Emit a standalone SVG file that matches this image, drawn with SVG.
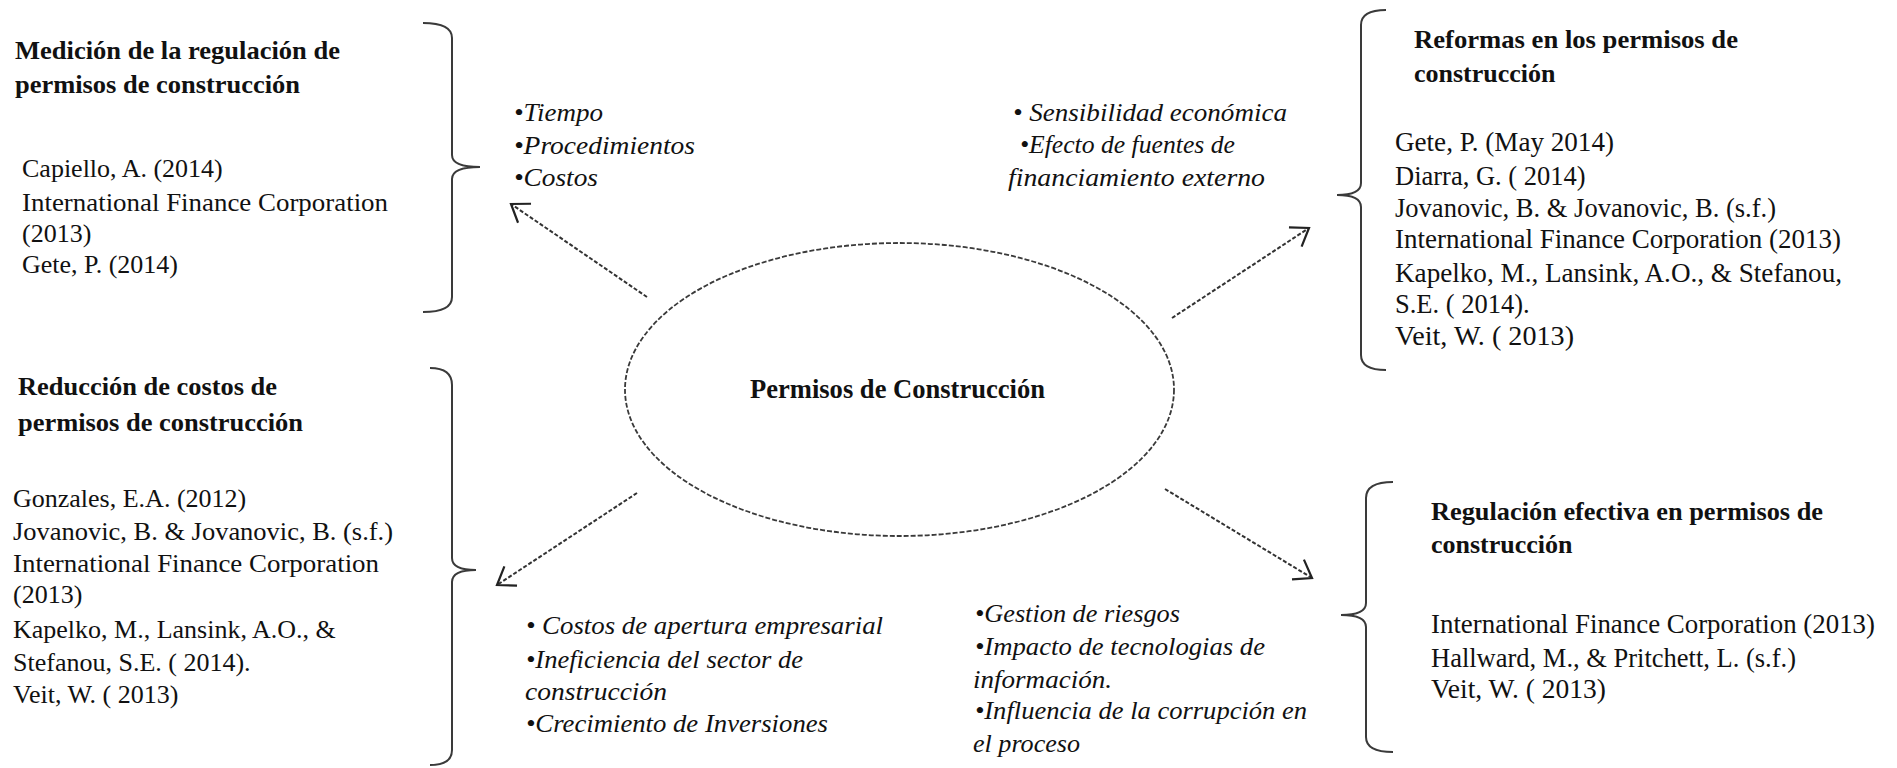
<svg xmlns="http://www.w3.org/2000/svg" width="1897" height="768" viewBox="0 0 1897 768">
<style>
.bg{fill:#ffffff}
.brace{fill:none;stroke:#3a3a3a;stroke-width:2}
.h{font-family:"Liberation Serif","Times New Roman",serif;font-weight:bold;fill:#111}
.r{font-family:"Liberation Serif","Times New Roman",serif;fill:#111}
.it{font-family:"Liberation Serif","Times New Roman",serif;font-style:italic;font-size:25px;fill:#111}
.conn{fill:none;stroke:#333;stroke-width:2;stroke-dasharray:4 2}
.ell{fill:none;stroke:#3a3a3a;stroke-width:1.8;stroke-dasharray:5 2}
.L{font-size:26px}
.R{font-size:26.5px}
</style>
<defs>
<marker id="arr" markerUnits="userSpaceOnUse" markerWidth="40" markerHeight="40" viewBox="-20 -20 40 40" refX="0" refY="0" orient="auto">
<path d="M-16.4,-11.5 L0,0 L-16.4,11.5" fill="none" stroke="#222" stroke-width="2.2" stroke-dasharray="none"/>
</marker>
</defs>
<rect class="bg" x="0" y="0" width="1897" height="768"/>

<g id="connectors">
<line class="conn" x1="647" y1="297" x2="511" y2="204" marker-end="url(#arr)"/>
<line class="conn" x1="1172" y1="318" x2="1309" y2="228" marker-end="url(#arr)"/>
<line class="conn" x1="637" y1="493" x2="497" y2="585" marker-end="url(#arr)"/>
<line class="conn" x1="1165" y1="489" x2="1312" y2="578" marker-end="url(#arr)"/>
</g>

<g id="center">
<ellipse class="ell" cx="899.5" cy="389.5" rx="274.5" ry="146.5"/>
<text class="h" x="750" y="398" font-size="27" textLength="295" lengthAdjust="spacingAndGlyphs">Permisos de Construcción</text>
</g>

<g id="medicion">
<path class="brace" d="M423,23 Q452,23 452,38 L452,155 Q452,167 480,167 Q452,167 452,179 L452,297 Q452,312 423,312"/>
<text class="h L" x="15" y="59" textLength="325" lengthAdjust="spacingAndGlyphs">Medición de la regulación de</text>
<text class="h L" x="15" y="93" textLength="285" lengthAdjust="spacingAndGlyphs">permisos de  construcción</text>
<text class="r L" x="22" y="177">Capiello, A. (2014)</text>
<text class="r L" x="22" y="211" textLength="366" lengthAdjust="spacingAndGlyphs">International Finance Corporation</text>
<text class="r L" x="22" y="242">(2013)</text>
<text class="r L" x="22" y="273">Gete, P. (2014)</text>
</g>

<g id="reduccion">
<path class="brace" d="M430,368 Q452,368 452,385 L452,558 Q452,570 476,570 Q452,570 452,582 L452,750 Q452,765 430,765"/>
<text class="h L" x="18" y="395" textLength="259" lengthAdjust="spacingAndGlyphs">Reducción de  costos de</text>
<text class="h L" x="18" y="431" textLength="285" lengthAdjust="spacingAndGlyphs">permisos de  construcción</text>
<text class="r L" x="13" y="507">Gonzales, E.A.  (2012)</text>
<text class="r L" x="13" y="540" textLength="380" lengthAdjust="spacingAndGlyphs">Jovanovic, B. &amp; Jovanovic, B. (s.f.)</text>
<text class="r L" x="13" y="572" textLength="366" lengthAdjust="spacingAndGlyphs">International Finance Corporation</text>
<text class="r L" x="13" y="603">(2013)</text>
<text class="r L" x="13" y="638">Kapelko, M., Lansink, A.O.,  &amp;</text>
<text class="r L" x="13" y="671">Stefanou, S.E. ( 2014).</text>
<text class="r L" x="13" y="703">Veit, W. ( 2013)</text>
</g>

<g id="reformas">
<path class="brace" d="M1386,10 Q1361,10 1361,25 L1361,183 Q1361,195 1337,195 Q1361,195 1361,207 L1361,355 Q1361,370 1386,370"/>
<text class="h" font-size="26" x="1414" y="48" textLength="324" lengthAdjust="spacingAndGlyphs">Reformas en los permisos  de</text>
<text class="h" font-size="26" x="1414" y="82">construcción</text>
<text class="r R" x="1395" y="151" textLength="219" lengthAdjust="spacingAndGlyphs">Gete, P. (May 2014)</text>
<text class="r R" x="1395" y="185">Diarra, G. ( 2014)</text>
<text class="r R" x="1395" y="217" textLength="381" lengthAdjust="spacingAndGlyphs">Jovanovic, B. &amp; Jovanovic, B. (s.f.)</text>
<text class="r R" x="1395" y="248" textLength="446" lengthAdjust="spacingAndGlyphs">International Finance Corporation (2013)</text>
<text class="r R" x="1395" y="282" textLength="447" lengthAdjust="spacingAndGlyphs">Kapelko, M., Lansink, A.O.,  &amp; Stefanou,</text>
<text class="r R" x="1395" y="313">S.E. ( 2014).</text>
<text class="r R" x="1395" y="345" textLength="179" lengthAdjust="spacingAndGlyphs">Veit, W. ( 2013)</text>
</g>

<g id="regulacion">
<path class="brace" d="M1393,482 Q1366,482 1366,498 L1366,603 Q1366,615 1341,615 Q1366,615 1366,627 L1366,737 Q1366,752 1393,752"/>
<text class="h" font-size="26" x="1431" y="520" textLength="392" lengthAdjust="spacingAndGlyphs">Regulación efectiva en permisos  de</text>
<text class="h" font-size="26" x="1431" y="553">construcción</text>
<text class="r R" x="1431" y="633" textLength="444" lengthAdjust="spacingAndGlyphs">International Finance Corporation (2013)</text>
<text class="r R" x="1431" y="667" textLength="365" lengthAdjust="spacingAndGlyphs">Hallward, M.,  &amp; Pritchett, L. (s.f.)</text>
<text class="r R" x="1431" y="698" textLength="175" lengthAdjust="spacingAndGlyphs">Veit, W. ( 2013)</text>
</g>

<g id="bullets-medicion">
<text class="it" x="514" y="121" textLength="89" lengthAdjust="spacingAndGlyphs">•Tiempo</text>
<text class="it" x="514" y="154" textLength="181" lengthAdjust="spacingAndGlyphs">•Procedimientos</text>
<text class="it" x="514" y="186" textLength="84" lengthAdjust="spacingAndGlyphs">•Costos</text>
</g>

<g id="bullets-reformas">
<text class="it" x="1013" y="121" textLength="274" lengthAdjust="spacingAndGlyphs">• Sensibilidad económica</text>
<text class="it" x="1020" y="153" textLength="215" lengthAdjust="spacingAndGlyphs">•Efecto de fuentes de</text>
<text class="it" x="1008" y="186" textLength="257" lengthAdjust="spacingAndGlyphs">financiamiento externo</text>
</g>

<g id="bullets-reduccion">
<text class="it" x="526" y="634" textLength="357" lengthAdjust="spacingAndGlyphs">• Costos de apertura empresarial</text>
<text class="it" x="526" y="668" textLength="277" lengthAdjust="spacingAndGlyphs">•Ineficiencia del sector de</text>
<text class="it" x="525" y="700" textLength="142" lengthAdjust="spacingAndGlyphs">construcción</text>
<text class="it" x="526" y="732" textLength="302" lengthAdjust="spacingAndGlyphs">•Crecimiento de Inversiones</text>
</g>

<g id="bullets-regulacion">
<text class="it" x="975" y="622" textLength="205" lengthAdjust="spacingAndGlyphs">•Gestion de riesgos</text>
<text class="it" x="975" y="655" textLength="290" lengthAdjust="spacingAndGlyphs">•Impacto de tecnologias de</text>
<text class="it" x="973" y="688" textLength="139" lengthAdjust="spacingAndGlyphs">información.</text>
<text class="it" x="975" y="719" textLength="332" lengthAdjust="spacingAndGlyphs">•Influencia de la corrupción en</text>
<text class="it" x="973" y="752" textLength="107" lengthAdjust="spacingAndGlyphs">el proceso</text>
</g>
</svg>
